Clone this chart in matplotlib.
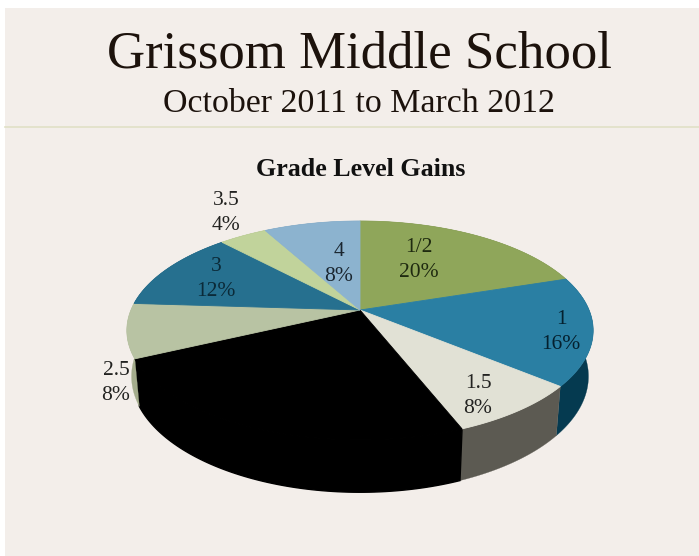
import numpy as np
import matplotlib
matplotlib.use("Agg")
import matplotlib.pyplot as plt
from matplotlib.patches import Polygon, Rectangle

plt.rcParams['font.family'] = ['Liberation Serif', 'DejaVu Serif']

# data, clockwise from 12 o'clock
categorias = ["1/2", "1", "1.5", "2", "2.5", "3", "3.5", "4"]
porcentajes = [20, 16, 8, 24, 8, 12, 4, 8]

colores = ["#8fa65a", "#2a7fa3", "#e1e1d5", "#000000",
           "#b8c3a3", "#26708f", "#c1d39b", "#8cb3cf"]
colores_lado = ["#5f7040", "#053a50", "#5c5a52", "#000000",
                "#a4ac8c", "#0f4258", "#8a9a68", "#5f84a0"]
colores_texto = ["#1f2a10", "#04202e", "#222220", "#000000",
                 "#222220", "#0b2a38", "#222220", "#1a2630"]

# label centres in pixels
pos_etiquetas = [(419, 260), (561, 332), (478, 396), (250, 402),
                 (116, 383), (216, 279), (226, 213), (339, 264)]

# perspective of the pie
CX, CY = 360, 310
A, B, K = 229, 105.6, 0.187
ESCALA_BASE, PROF = 0.98, 44.7


def proyectar(theta, base=False):
    x = np.sin(theta)
    y = np.cos(theta)
    den = 1 + K * y
    s = ESCALA_BASE if base else 1.0
    px = CX + s * A * x / den
    py = CY - s * B * y / den
    if base:
        py = py + PROF / den
    return px, py


fig = plt.figure(figsize=(6.99, 5.56), dpi=100, facecolor="white")
ax = fig.add_axes([0, 0, 1, 1])
ax.set_xlim(0, 699)
ax.set_ylim(556, 0)
ax.axis("off")

# slide background and rule
ax.add_patch(Rectangle((5, 8), 694, 548, facecolor="#f3eeea", edgecolor="none", zorder=0))
ax.plot([5, 699], [127, 127], color="#e0e0c6", lw=1.2, zorder=1)

ax.text(359.5, 68, "Grissom Middle School", ha="center", va="baseline",
        fontsize=38.1, color="#1c120c", zorder=5)
ax.text(359, 112, "October 2011 to March 2012", ha="center", va="baseline",
        fontsize=24.4, color="#1c120c", zorder=5)
ax.text(360.5, 176, "Grade Level Gains", ha="center", va="baseline",
        fontsize=18.7, fontweight="bold", color="#111111", zorder=5)

limites = np.cumsum([0] + porcentajes) / 100 * 2 * np.pi

# side walls first, the top faces paint over the hidden ones
for i in range(len(porcentajes)):
    t = np.linspace(limites[i], limites[i + 1], 80)
    xs, ys = proyectar(t)
    xb, yb = proyectar(t, base=True)
    puntos = np.column_stack([np.r_[xs, xb[::-1]], np.r_[ys, yb[::-1]]])
    # thicker edge on the black wall so no seam shows against the black top
    grosor = 1.0 if colores[i] == "#000000" else 0.2
    ax.add_patch(Polygon(puntos, closed=True, facecolor=colores_lado[i],
                         edgecolor=colores_lado[i], lw=grosor, zorder=2))

for i in range(len(porcentajes)):
    t = np.linspace(limites[i], limites[i + 1], 80)
    xs, ys = proyectar(t)
    puntos = np.column_stack([np.r_[CX, xs], np.r_[CY, ys]])
    ax.add_patch(Polygon(puntos, closed=True, facecolor=colores[i],
                         edgecolor=colores[i], lw=0.6, zorder=3))

for i, (cat, pct) in enumerate(zip(categorias, porcentajes)):
    x, y = pos_etiquetas[i]
    ax.text(x, y, f"{cat}\n{pct}%", ha="center", va="center", fontsize=15.5,
            linespacing=1.43, color=colores_texto[i], zorder=4)

fig.savefig("out.png", dpi=100, facecolor=fig.get_facecolor())
